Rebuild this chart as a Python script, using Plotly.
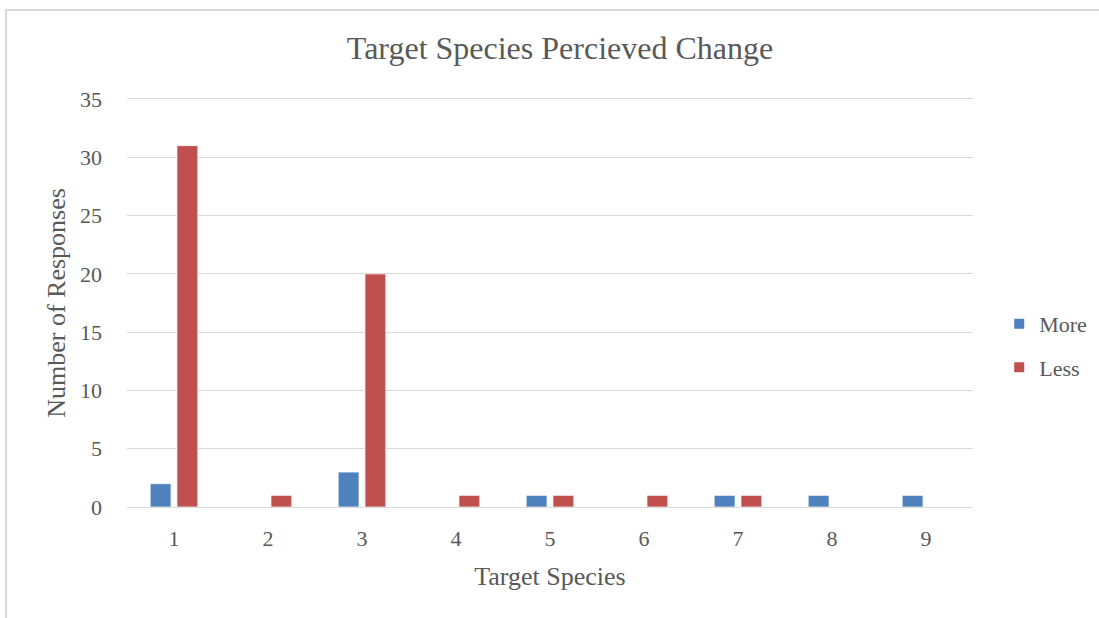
import plotly.graph_objects as go

# Survey responses per target species
species = ["1", "2", "3", "4", "5", "6", "7", "8", "9"]
more_counts = [2, 0, 3, 0, 1, 0, 1, 1, 1]
less_counts = [31, 1, 20, 1, 1, 1, 1, 0, 0]
y_ticks = [0, 5, 10, 15, 20, 25, 30, 35]

FONT = "Liberation Serif, Times New Roman, serif"
TEXT = "#595959"
GRID = "#d9d9d9"

fig = go.Figure()
fig.add_trace(go.Bar(
    name="More", x=species, y=more_counts, legendgroup="more",
    marker=dict(color="#4F81BD", line=dict(color="white", width=0.75)),
))
fig.add_trace(go.Bar(
    name="Less", x=species, y=less_counts, legendgroup="less",
    marker=dict(color="#C0504D", line=dict(color="white", width=0.75)),
))

fig.update_layout(
    width=1099, height=618,
    margin=dict(l=127, r=126, t=99, b=111, autoexpand=False),
    paper_bgcolor="white", plot_bgcolor="white",
    barmode="group", bargap=0.43, bargroupgap=0.22,
    font=dict(family=FONT, color=TEXT, size=22),
    title=dict(text="Target Species Percieved Change", x=560 / 1099, xanchor="center",
               y=1 - 48 / 618, yanchor="middle",
               font=dict(family=FONT, size=32, color=TEXT)),
    xaxis=dict(
        title=dict(text="Target Species", font=dict(size=26), standoff=16),
        showgrid=False, showline=True, mirror=True, linecolor=GRID, linewidth=1,
        ticks="", tickfont=dict(size=22), ticklabelstandoff=12,
    ),
    yaxis=dict(
        title=dict(text="Number of Responses", font=dict(size=26), standoff=6),
        range=[0, 35], tickvals=y_ticks, showgrid=True, gridcolor=GRID,
        gridwidth=1, zeroline=False, ticks="", tickfont=dict(size=22),
        ticklabelstandoff=24,
    ),
    legend=dict(x=1.031, xanchor="left", y=0.395, yanchor="middle",
                font=dict(size=22), tracegroupgap=12, itemsizing="constant"),
    shapes=[
        dict(type="line", xref="paper", yref="paper",
             x0=-122 / 846, x1=1.2, y0=1 + 89 / 408, y1=1 + 89 / 408,
             line=dict(color="#d9d9d9", width=2)),
        dict(type="line", xref="paper", yref="paper",
             x0=-121 / 846, x1=-121 / 846, y0=1 + 89 / 408, y1=-0.3,
             line=dict(color="#d9d9d9", width=2)),
    ],
)

fig.write_html("out.html")
